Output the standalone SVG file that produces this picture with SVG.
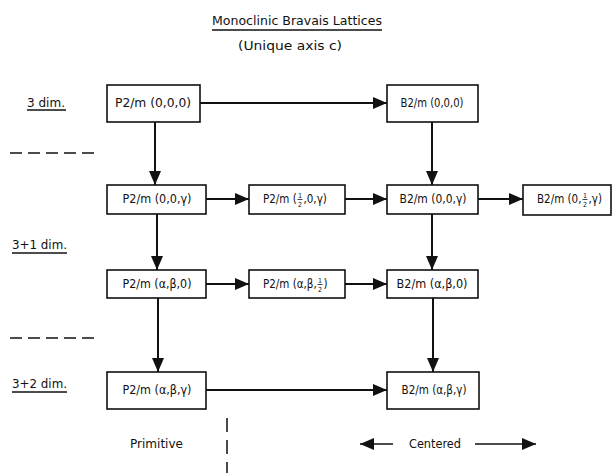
<svg xmlns="http://www.w3.org/2000/svg" width="612" height="473" viewBox="0 0 612 473">
<style>
text{font-family:"DejaVu Sans Condensed","Liberation Sans Narrow","Liberation Sans",sans-serif;font-stretch:condensed;fill:#111}
.lbl{font-size:11.5px;text-anchor:middle}
.lp{font-size:11.5px}
.frac{font-size:7px;text-anchor:middle}
.fl{stroke:#111;stroke-width:0.8}
.box{fill:#fff;stroke:#111;stroke-width:1.6}
.conn{stroke:#111;stroke-width:2;fill:none}
.dash{stroke:#111;stroke-width:1.5;fill:none;stroke-dasharray:12 6}
.ul{stroke:#111;stroke-width:1.4}
.side{font-size:12.5px}
</style>
<defs>
<marker id="ah" markerUnits="userSpaceOnUse" markerWidth="14" markerHeight="12" refX="14" refY="6" orient="auto">
<path d="M0,0 L14,6 L0,12 Z" fill="#111"/>
</marker>
</defs>

<g id="title">
<text x="297" y="25" style="font-size:12.5px" text-anchor="middle" textLength="170" lengthAdjust="spacingAndGlyphs">Monoclinic Bravais Lattices</text>
<line class="ul" x1="212" y1="30" x2="382" y2="30"/>
<text x="290" y="50" style="font-size:12px" text-anchor="middle" textLength="104" lengthAdjust="spacingAndGlyphs">(Unique axis c)</text>
</g>

<g id="side-labels">
<text class="side" x="27" y="107" textLength="38" lengthAdjust="spacingAndGlyphs">3 dim.</text>
<line class="ul" x1="27" y1="110" x2="66" y2="110"/>
<text class="side" x="12" y="249" textLength="55" lengthAdjust="spacingAndGlyphs">3+1 dim.</text>
<line class="ul" x1="12" y1="253" x2="67" y2="253"/>
<text class="side" x="12" y="388" textLength="55" lengthAdjust="spacingAndGlyphs">3+2 dim.</text>
<line class="ul" x1="12" y1="392" x2="67" y2="392"/>
<line class="dash" x1="10" y1="153" x2="100" y2="153"/>
<line class="dash" x1="10" y1="338" x2="100" y2="338"/>
<line class="dash" x1="227" y1="418" x2="227" y2="473" style="stroke-dasharray:14 8"/>
<text class="side" x="130" y="448" textLength="53" lengthAdjust="spacingAndGlyphs">Primitive</text>
<text class="side" x="409" y="448" textLength="52" lengthAdjust="spacingAndGlyphs">Centered</text>
</g>

<g id="connectors">
<line class="conn" x1="200" y1="103" x2="387" y2="103" marker-end="url(#ah)"/>
<line class="conn" x1="155" y1="122" x2="155" y2="185" marker-end="url(#ah)"/>
<line class="conn" x1="432" y1="122" x2="432" y2="185" marker-end="url(#ah)"/>
<line class="conn" x1="206" y1="199" x2="249" y2="199" marker-end="url(#ah)"/>
<line class="conn" x1="345" y1="199" x2="387" y2="199" marker-end="url(#ah)"/>
<line class="conn" x1="478" y1="199" x2="523" y2="199" marker-end="url(#ah)"/>
<line class="conn" x1="157" y1="214" x2="157" y2="270" marker-end="url(#ah)"/>
<line class="conn" x1="432" y1="214" x2="432" y2="270" marker-end="url(#ah)"/>
<line class="conn" x1="206" y1="284" x2="249" y2="284" marker-end="url(#ah)"/>
<line class="conn" x1="345" y1="284" x2="387" y2="284" marker-end="url(#ah)"/>
<line class="conn" x1="158" y1="298" x2="158" y2="372" marker-end="url(#ah)"/>
<line class="conn" x1="433" y1="298" x2="433" y2="372" marker-end="url(#ah)"/>
<line class="conn" x1="206" y1="390" x2="387" y2="390" marker-end="url(#ah)"/>
<line class="conn" x1="393" y1="444" x2="360" y2="444" style="stroke-width:1.6" marker-end="url(#ah)"/>
<line class="conn" x1="475" y1="444" x2="536" y2="444" style="stroke-width:1.6" marker-end="url(#ah)"/>
</g>

<g id="A"><rect class="box" x="107" y="85" width="93" height="37"/>
<text class="lbl" x="153" y="107" textLength="76" lengthAdjust="spacingAndGlyphs">P2/m (0,0,0)</text></g>
<g id="B"><rect class="box" x="387" y="85" width="91" height="37"/>
<text class="lbl" x="432" y="107" textLength="63" lengthAdjust="spacingAndGlyphs">B2/m (0,0,0)</text></g>
<g id="C"><rect class="box" x="107" y="185" width="99" height="29"/>
<text class="lbl" x="157" y="203" textLength="69" lengthAdjust="spacingAndGlyphs">P2/m (0,0,γ)</text></g>
<g id="D"><rect class="box" x="249" y="185" width="96" height="29"/>
<text class="lp" x="263" y="203">P2/m (</text>
<text class="frac" x="300" y="197.5">1</text>
<line class="fl" x1="297.5" y1="199.5" x2="302.5" y2="199.5"/>
<text class="frac" x="300" y="207">2</text>
<text class="lp" x="303.5" y="203">,0,γ)</text></g>
<g id="E"><rect class="box" x="387" y="185" width="91" height="29"/>
<text class="lbl" x="433" y="203" textLength="67" lengthAdjust="spacingAndGlyphs">B2/m (0,0,γ)</text></g>
<g id="F"><rect class="box" x="523" y="185" width="88" height="30"/>
<text class="lp" x="537" y="203">B2/m (0,</text>
<text class="frac" x="585" y="197.5">1</text>
<line class="fl" x1="582.5" y1="199.5" x2="587.5" y2="199.5"/>
<text class="frac" x="585" y="207">2</text>
<text class="lp" x="588.5" y="203">,γ)</text></g>
<g id="G"><rect class="box" x="107" y="270" width="99" height="28"/>
<text class="lbl" x="157" y="288" textLength="69" lengthAdjust="spacingAndGlyphs">P2/m (α,β,0)</text></g>
<g id="H"><rect class="box" x="249" y="270" width="96" height="28"/>
<text class="lp" x="263" y="288">P2/m (α,β,</text>
<text class="frac" x="320" y="282.5">1</text>
<line class="fl" x1="317.5" y1="284.5" x2="322.5" y2="284.5"/>
<text class="frac" x="320" y="292">2</text>
<text class="lp" x="323.5" y="288">)</text></g>
<g id="I"><rect class="box" x="387" y="270" width="91" height="28"/>
<text class="lbl" x="432" y="288" textLength="71" lengthAdjust="spacingAndGlyphs">B2/m (α,β,0)</text></g>
<g id="J"><rect class="box" x="107" y="372" width="99" height="37"/>
<text class="lbl" x="157" y="394" textLength="69" lengthAdjust="spacingAndGlyphs">P2/m (α,β,γ)</text></g>
<g id="K"><rect class="box" x="387" y="372" width="92" height="37"/>
<text class="lbl" x="434" y="394" textLength="65" lengthAdjust="spacingAndGlyphs">B2/m (α,β,γ)</text></g>
</svg>
